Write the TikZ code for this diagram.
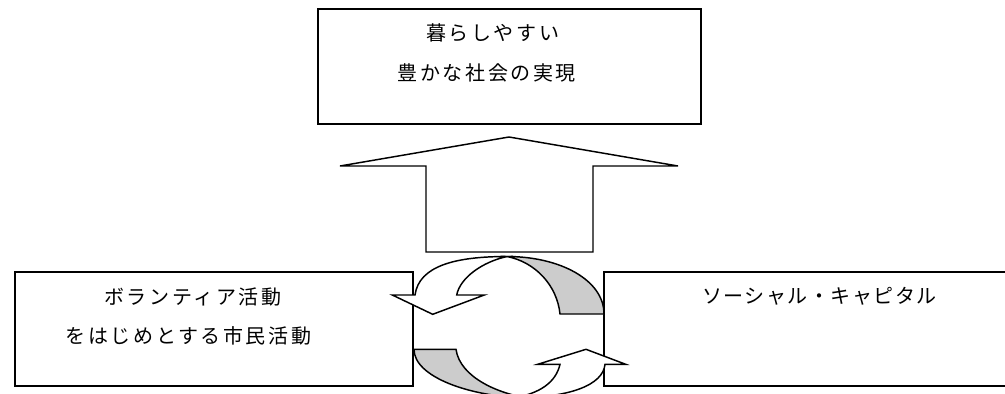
\documentclass[tikz,border=0pt]{standalone}
\usepackage{fontspec}
\newfontfamily\jp[LetterSpace=13]{Noto Sans CJK JP}
\newfontfamily\jpn[LetterSpace=7.5]{Noto Sans CJK JP}
\begin{document}
\begin{tikzpicture}[x=0.75pt,y=-0.75pt]
\tikzset{
  box/.style={draw=black,line width=1.5pt},
  arr/.style={draw=black,line width=1.1pt,fill=white,line join=miter},
  band/.style={draw=black,line width=1.1pt,fill=black!20},
  lbl/.style={font=\jp\fontsize{15}{18}\selectfont,anchor=west,inner sep=0pt},
  lbln/.style={font=\jpn\fontsize{15}{18}\selectfont,anchor=west,inner sep=0pt},
}
\useasboundingbox (0,0) rectangle (1005,393);
\begin{scope}
\clip (0,0) rectangle (1005,393);
% boxes
\draw[box] (318,9) rectangle (701,124);
\draw[box] (15,271.5) rectangle (413,385.7);
\draw[box] (604.3,271.5) rectangle (1010,386);
% labels
\node[lbl] (t1) at (426,32.5) {暮らしやすい};
\node[lbl] (t2) at (397.5,72.5) {豊かな社会の実現};
\node[lbl] (l1) at (104,297) {ボランティア活動};
\node[lbl] (l2) at (65.5,336) {をはじめとする市民活動};
\node[lbln] (r1) at (702,296) {ソーシャル・キャピタル};
% big up arrow
\draw[arr] (426,252) -- (426,166) -- (340,166) -- (509,137) -- (678,166)
  -- (593,166) -- (593,252) -- cycle;
% upper circular arrow
\draw[band] (507,256.5) .. controls (560,256.5) and (604,280) .. (604,314)
  -- (560,314) .. controls (557,285) and (535,262) .. cycle;
\draw[arr] (507,256.5) .. controls (455,256.5) and (419,266) .. (415,295)
  -- (392.3,295) -- (432.7,314.3) -- (484.3,295) -- (456.7,295)
  .. controls (460,278) and (482,262) .. cycle;
% lower circular arrow
\draw[band] (414,349.3) .. controls (414,377) and (470,397) .. (528,398)
  .. controls (500,394) and (460,378) .. (456,349.3) -- cycle;
\draw[arr] (512,398) .. controls (570,398) and (603,385) .. (605,364.3)
  -- (625.7,364.3) -- (586,349.3) -- (537.7,364.3) -- (560,364.3)
  .. controls (556,382) and (540,394) .. cycle;
\end{scope}
\end{tikzpicture}
\end{document}
